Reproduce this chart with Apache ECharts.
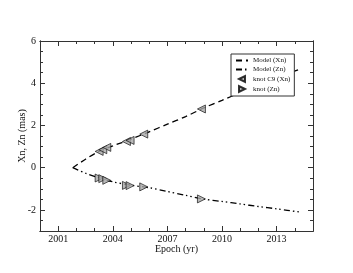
<!DOCTYPE html>
<html><head><meta charset="utf-8">
<script src="https://cdn.jsdelivr.net/npm/echarts@6/dist/echarts.min.js"></script>
<style>html,body{margin:0;padding:0;background:#fff}#c{width:353px;height:273px}</style>
</head><body><div id="c"></div>
<script>
var knotEpochs = [2003.25, 2003.45, 2003.67, 2004.75, 2004.95, 2005.7, 2008.87];
var knotXn = [0.77, 0.85, 0.96, 1.24, 1.29, 1.59, 2.78];
var knotZn = [-0.49, -0.52, -0.60, -0.84, -0.85, -0.91, -1.48];
var modelEpochs = [2001.8, 2002.5, 2003.2, 2004, 2005, 2006, 2007, 2008, 2009, 2010, 2011, 2012, 2013, 2014.35];
var modelXn = [0, 0.40, 0.75, 1.03, 1.35, 1.70, 2.06, 2.42, 2.83, 3.19, 3.55, 3.91, 4.27, 4.68];
var modelZn = [0, -0.26, -0.47, -0.67, -0.83, -0.95, -1.13, -1.31, -1.49, -1.60, -1.72, -1.84, -1.95, -2.11];
var xTickLabels = [2001, 2004, 2007, 2010, 2013];
var yTickLabels = [-2, 0, 2, 4, 6];

function pairs(xs, ys){ return xs.map(function(x,i){ return [x, ys[i]]; }); }

var font = 'Liberation Serif';
var lineCol = '#333';
var xMin = 2000, xMax = 2015, yMin = -3, yMax = 6;

function xAx(pos, major, showLabel){
  var a = {
    type:'value', min:xMin, max:xMax, interval:1, position:pos,
    axisLine:{show:true, onZero:false, lineStyle:{color:lineCol, width:1}},
    splitLine:{show:false},
    axisTick:{show:true, inside:true, length: major?5:3, lineStyle:{color:lineCol}},
    axisLabel:{show:false}
  };
  if (major){
    a.axisTick.customValues = xTickLabels;
    a.axisLabel = {show:showLabel, customValues:xTickLabels, color:'#111', fontFamily:font, fontSize:10, margin:3,
      formatter:function(v){ return String(v); }};
  }
  if (showLabel){
    a.name = 'Epoch (yr)'; a.nameLocation='middle'; a.nameGap=13; a.nameMoveOverlap=false;
    a.nameTextStyle = {fontFamily:font, fontSize:10, color:'#111'};
  }
  return a;
}
function yAx(pos, major, showLabel){
  var a = {
    type:'value', min:yMin, max:yMax, interval:0.5, position:pos,
    axisLine:{show:true, onZero:false, lineStyle:{color:lineCol, width:1}},
    splitLine:{show:false},
    axisTick:{show:true, inside:true, length: major?5:3, lineStyle:{color:lineCol}},
    axisLabel:{show:false}
  };
  if (major){
    a.axisTick.customValues = yTickLabels;
    a.axisLabel = {show:showLabel, customValues:yTickLabels, color:'#111', fontFamily:font, fontSize:10, margin:4,
      formatter:function(v){ return String(v); }};
  }
  if (showLabel){
    a.name = 'Xn, Zn (mas)'; a.nameLocation='middle'; a.nameGap=13; a.nameMoveOverlap=false;
    a.nameTextStyle = {fontFamily:font, fontSize:10, color:'#111'};
  }
  return a;
}

var hidden = {color:'rgba(0,0,0,0)', borderWidth:0, opacity:0};
var chart = echarts.init(document.getElementById('c'), null, {renderer:'canvas'});
chart.setOption({
  animation:false,
  backgroundColor:'#fff',
  grid:{left:40, top:41, width:273, height:190, containLabel:false},
  xAxis:[xAx('bottom', true, true), xAx('bottom', false, false), xAx('top', true, false), xAx('top', false, false)],
  yAxis:[yAx('left', true, true), yAx('left', false, false), yAx('right', true, false), yAx('right', false, false)],
  legend:{
    orient:'vertical', left:231, top:54, padding:[3,4,3,4],
    itemWidth:12, itemHeight:6, itemGap:2,
    backgroundColor:'#fff', borderColor:'#333', borderWidth:1, borderRadius:0,
    textStyle:{fontFamily:font, fontSize:7, color:'#111'},
    data:[
      {name:'Model (Xn)', itemStyle:hidden},
      {name:'Model (Zn)', itemStyle:hidden},
      {name:'knot C9 (Xn)', icon:'path://M0,5L10,0L10,10Z'},
      {name:'knot (Zn)', icon:'path://M10,5L0,0L0,10Z'}
    ]
  },
  series:[
    {name:'Model (Xn)', type:'line', data:pairs(modelEpochs, modelXn), showSymbol:false, symbol:'none', smooth:0.3,
     lineStyle:{color:'#000', width:1.3, type:[6,4]}, itemStyle:{color:'#000'}, z:2},
    {name:'Model (Zn)', type:'line', data:pairs(modelEpochs, modelZn), showSymbol:false, symbol:'none', smooth:0.3,
     lineStyle:{color:'#000', width:1.3, type:[6,3,1.5,3,1.5,3]}, itemStyle:{color:'#000'}, z:2},
    {name:'knot C9 (Xn)', type:'scatter', data:pairs(knotEpochs, knotXn), symbol:'triangle', symbolRotate:90, symbolSize:8,
     itemStyle:{color:'#a8a8a8', borderColor:'#000', borderWidth:0.8}, z:3},
    {name:'knot (Zn)', type:'scatter', data:pairs(knotEpochs, knotZn), symbol:'triangle', symbolRotate:-90, symbolSize:8,
     itemStyle:{color:'#a8a8a8', borderColor:'#000', borderWidth:0.8}, z:3}
  ]
});
</script></body></html>
